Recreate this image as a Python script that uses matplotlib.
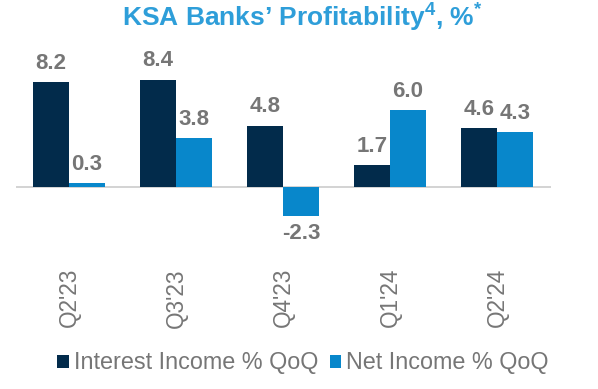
import matplotlib
matplotlib.use("Agg")
import matplotlib.pyplot as plt
import numpy as np

categories = ["Q2'23", "Q3'23", "Q4'23", "Q1'24", "Q2'24"]
interest_income = [8.2, 8.4, 4.8, 1.7, 4.6]
net_income = [0.3, 3.8, -2.3, 6.0, 4.3]
series_names = ["Interest Income % QoQ", "Net Income % QoQ"]

plt.rcParams['font.family'] = ['Liberation Sans', 'DejaVu Sans']
plt.rcParams['mathtext.fontset'] = 'custom'
plt.rcParams['mathtext.rm'] = 'Liberation Sans'
plt.rcParams['mathtext.bf'] = 'Liberation Sans:bold'

dark = '#022b4b'
blue = '#0887cb'
gray = '#767676'
title_c = '#2e9ed9'

W, H = 598.0, 389.0
fig = plt.figure(figsize=(W / 100, H / 100), dpi=100)
ppu = 12.75
zero_px = 186.7
ymax, ymin = 9.0, -3.0
top_px = zero_px - ymax * ppu
bot_px = zero_px - ymin * ppu
pos = [15.5 / W, 1 - bot_px / H, 535 / W, (bot_px - top_px) / H]
ax = fig.add_axes(pos)

x = np.arange(len(categories))
w = 36 / 107.0
b1 = ax.bar(x - w / 2, interest_income, w, color=dark, label=series_names[0])
b2 = ax.bar(x + w / 2, net_income, w, color=blue, label=series_names[1])

for bars, vals in ((b1, interest_income), (b2, net_income)):
    for r, v in zip(bars, vals):
        cx = r.get_x() + r.get_width() / 2
        if v >= 0:
            ax.annotate(f"{v:.1f}", (cx, v), xytext=(0, 6), textcoords='offset points',
                        ha='center', va='bottom', color=gray, fontsize=16, fontweight='bold')
        else:
            ax.annotate(f"{v:.1f}", (cx, v), xytext=(0, -5), textcoords='offset points',
                        ha='center', va='top', color=gray, fontsize=16, fontweight='bold')

ax.axhline(0, color='#d0d0d0', lw=1.3, zorder=0)
ax.set_xlim(-0.5, len(categories) - 0.5)
ax.set_ylim(ymin, ymax)
ax.set_yticks([])
ax.set_xticks([])
for s in ax.spines.values():
    s.set_visible(False)

tr = matplotlib.transforms.blended_transform_factory(ax.transData, fig.transFigure)
for xi, c in zip(x, categories):
    ax.text(xi, 1 - 268 / H, c, rotation=90, color=gray, fontsize=16.3,
            ha='center', va='top', transform=tr)

fig.text(302 / W, 1 - 17 / H, "KSA Banks\u2019 Profitability$^{\\mathbf{4}}$, %$^{\\mathbf{*}}$",
         ha='center', va='center', color=title_c, fontsize=19, fontweight='bold')

fig.legend(handles=[b1, b2], labels=series_names, loc='center',
           bbox_to_anchor=(303 / W, 1 - 363 / H),
           ncol=2, frameon=False, fontsize=16.8, handlelength=0.5, handleheight=0.5,
           handletextpad=0.2, columnspacing=0.5, labelcolor=gray, borderpad=0, borderaxespad=0)

fig.savefig('out.png', dpi=100)
